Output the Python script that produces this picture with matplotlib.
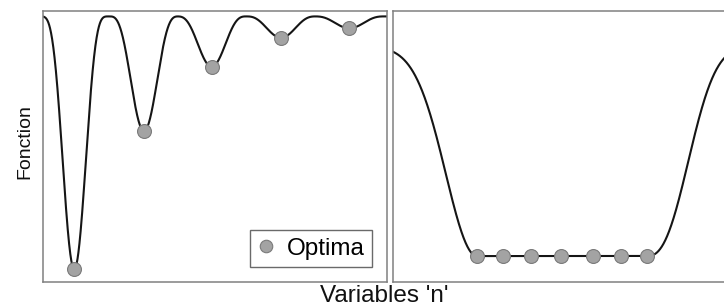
import numpy as np
import matplotlib
matplotlib.use("Agg")
import matplotlib.pyplot as plt

# ---- data ----
# Left panel: multimodal function, local optima (x, value)
left_opt_x = [0.91, 2.94, 4.91, 6.93, 8.92]
left_opt_y = [0.045, 0.556, 0.794, 0.901, 0.936]
left_well_exp = [1.9, 1.5, 1.4, 1.3, 1.3]   # sharpness of each well
left_top = 0.98                              # value of the maxima
left_half_period = 1.0

# Right panel: flat-bottomed function, optima along the plateau
right_opt_x = [2.53, 3.30, 4.14, 5.04, 6.00, 6.84, 7.63]
right_floor = 0.094
right_top = 0.87
right_scale = [1.32, 1.52]     # left / right flank widths
right_power = [2.0, 2.5]       # left / right flank shapes

legend_label = "Optima"
ylabel_text = "Fonction"
xlabel_text = "Variables 'n'"

plt.rcParams['font.family'] = ['Liberation Sans', 'DejaVu Sans']

W, H = 724, 308
fig = plt.figure(figsize=(W / 100, H / 100), dpi=100)
axL = fig.add_axes([43 / W, (H - 281.5) / H, 343.5 / W, 270.5 / H])
axR = fig.add_axes([392.5 / W, (H - 281.5) / H, (726 - 392.5) / W, 270.5 / H])

line_kw = dict(color='#151515', lw=1.5, zorder=2)
mk_kw = dict(marker='o', ls='none', ms=10, mfc='#a3a3a3', mec='#7a7a7a',
             mew=0.8, zorder=3)

# left curve
xl = np.linspace(0, 10, 2000)
yl = np.full_like(xl, left_top)
for cx, cy, p in zip(left_opt_x, left_opt_y, left_well_exp):
    d = np.clip((xl - cx) / left_half_period, -1, 1)
    g = ((1 + np.cos(np.pi * d)) / 2) ** p
    yl -= (left_top - cy) * g
axL.plot(xl, yl, **line_kw)
axL.plot(left_opt_x, left_opt_y, label=legend_label, **mk_kw)

# right curve
xr = np.linspace(0, 10, 2000)
a, b = right_opt_x[0], right_opt_x[-1]
yr = np.full_like(xr, right_floor)
m = xr < a
yr[m] = right_floor + (right_top - right_floor) * (
    1 - np.exp(-((a - xr[m]) / right_scale[0]) ** right_power[0]))
m = xr > b
yr[m] = right_floor + (right_top - right_floor) * (
    1 - np.exp(-((xr[m] - b) / right_scale[1]) ** right_power[1]))
axR.plot(xr, yr, **line_kw)
axR.plot(right_opt_x, [right_floor] * len(right_opt_x), **mk_kw)

for ax in (axL, axR):
    ax.set_xlim(0, 10)
    ax.set_ylim(0, 1)
    ax.set_xticks([])
    ax.set_yticks([])
    for s in ax.spines.values():
        s.set_color('#808080')
        s.set_linewidth(1.1)

leg = axL.legend(loc='lower right', fontsize=17.5, frameon=True, fancybox=False,
                 edgecolor='#6a6a6a', framealpha=1, handlelength=0.7,
                 handletextpad=0.5, borderpad=0.3, borderaxespad=0.6,
                 markerscale=0.9)
leg.get_frame().set_linewidth(1.0)

fig.text(25 / W, 1 - 142 / H, ylabel_text, rotation=90, ha='center',
         va='center', fontsize=14, color='#111111')
fig.text(384 / W, 1 - 295.5 / H, xlabel_text, ha='center', va='center',
         fontsize=17.5, color='#111111')

fig.savefig('out.png', dpi=100)
